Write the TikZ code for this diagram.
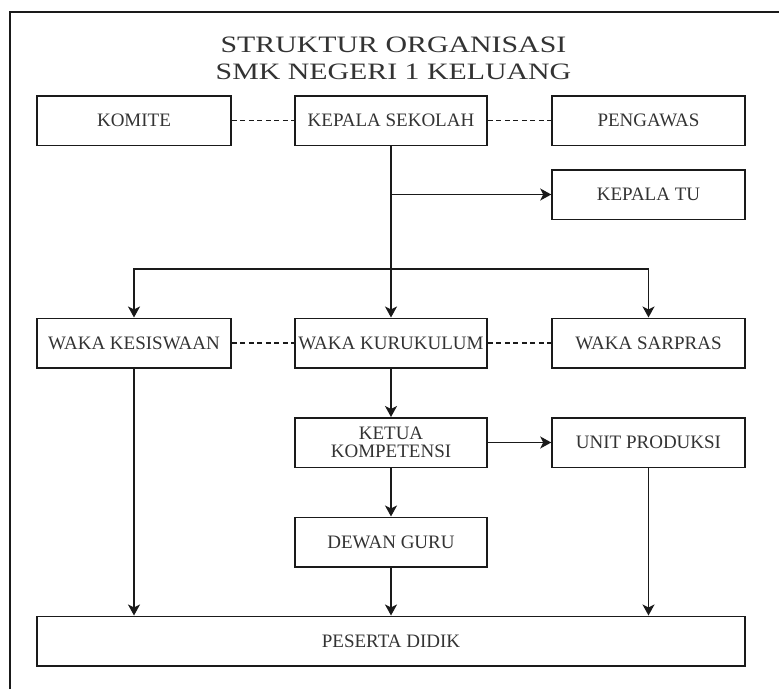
\documentclass[tikz,border=0pt]{standalone}
\usepackage{fontspec}
\setmainfont{Liberation Serif}
\newfontfamily\titlefont{Liberation Serif}[FakeStretch=1.27]
\usetikzlibrary{arrows.meta}
\definecolor{ln}{HTML}{1a1a1a}
\definecolor{tx}{HTML}{333333}
\tikzset{
  box/.style={draw=ln, line width=1.5pt, minimum height=49.5pt, inner sep=0pt, align=center,
    text=tx, font=\fontsize{19}{18.5}\selectfont},
  lbox/.style={box, minimum width=194pt},
  mbox/.style={box, minimum width=192pt},
  rbox/.style={box, minimum width=193pt},
  arr/.style={draw=ln, line width=1.5pt, -{Stealth[length=11pt,width=12pt,inset=3pt]}},
  dsh/.style={draw=ln, line width=1.1pt, dash pattern=on 5pt off 3.5pt}
}
\begin{document}
\begin{tikzpicture}[x=1pt,y=-1pt]
\useasboundingbox (0,0) rectangle (779,689);
\draw[ln, line width=1.3pt] (10,689) -- (10,12) -- (779,12);
\node[text=tx, font=\titlefont\fontsize{23.5}{27}\selectfont, align=center, anchor=base] (title) at (393.5,79) {STRUKTUR ORGANISASI\\SMK NEGERI 1 KELUANG};

\node[lbox] (kom) at (134,120.5) {KOMITE};
\node[mbox] (ks) at (391,120.5) {KEPALA SEKOLAH};
\node[rbox] (peng) at (648.5,120.5) {PENGAWAS};
\node[rbox] (ktu) at (648.5,194.5) {KEPALA TU};

\node[lbox] (wkes) at (134,343) {WAKA KESISWAAN};
\node[mbox] (wkur) at (391,343) {WAKA KURUKULUM};
\node[rbox] (wsar) at (648.5,343) {WAKA SARPRAS};

\node[mbox] (ketua) at (391,442.5) {KETUA\\KOMPETENSI};
\node[rbox] (unit) at (648.5,442.5) {UNIT PRODUKSI};
\node[mbox] (dewan) at (391,542) {DEWAN GURU};
\node[box, minimum width=708pt] (pd) at (391,641) {PESERTA DIDIK};

\draw[dsh] (kom.east) -- (ks.west);
\draw[dsh] (ks.east) -- (peng.west);
\draw[dsh] (wkes.east) -- (wkur.west);
\draw[dsh] (wkur.east) -- (wsar.west);

\coordinate (tu) at (391,194.5);
\coordinate (bus) at (391,269);
\draw[arr] (ks.south) -- (wkur.north);
\draw[arr] (tu) -- (ktu.west);
\draw[arr] (bus) -| (wkes.north);
\draw[arr] (bus) -| (wsar.north);

\draw[arr] (wkur.south) -- (ketua.north);
\draw[arr] (ketua.east) -- (unit.west);
\draw[arr] (ketua.south) -- (dewan.north);
\draw[arr] (wkes.south) -- (wkes.south |- pd.north);
\draw[arr] (dewan.south) -- (pd.north);
\draw[arr] (unit.south) -- (unit.south |- pd.north);
\end{tikzpicture}
\end{document}
